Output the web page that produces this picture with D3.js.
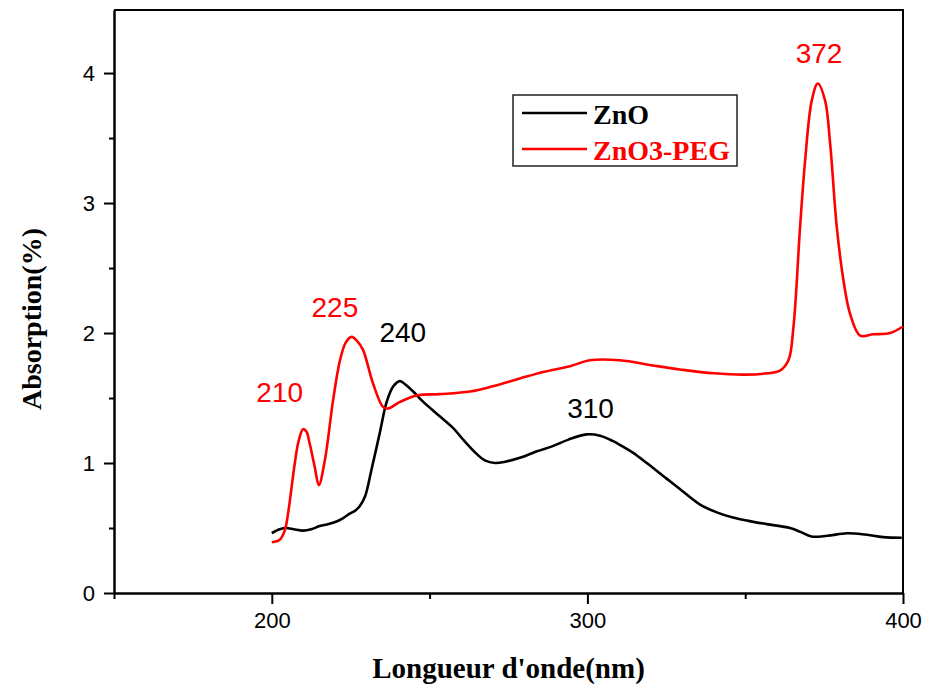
<!DOCTYPE html>
<html>
<head>
<meta charset="utf-8">
<script src="https://cdn.jsdelivr.net/npm/d3@7"></script>
<style>
  body { margin: 0; background: #fff; }
  svg { display: block; }
</style>
</head>
<body>
<svg id="chart" width="925" height="688"></svg>
<script>
// ZnO absorption spectrum
var znoWl  = [200, 202.5, 204.6, 207, 209.9, 212.5, 215.2, 218, 220.5, 222.5, 224.7, 226.5, 227.9, 229.5, 231.6, 234.2, 236.4, 238.5, 240.6, 242.5, 244.8, 248, 253.2, 257.4, 261, 264.9, 267.5, 270.7, 274, 278.6, 284, 289, 294, 299.7, 304, 308, 311, 314.4, 318.8, 325.1, 329.3, 335.7, 341, 346.1, 351, 356.8, 364.2, 367.5, 371, 376, 382.2, 388, 393.7, 399.6]
var znoAbs = [0.46, 0.49, 0.5, 0.49, 0.48, 0.49, 0.515, 0.53, 0.55, 0.575, 0.61, 0.635, 0.67, 0.74, 0.95, 1.23, 1.47, 1.59, 1.63, 1.6, 1.55, 1.47, 1.36, 1.27, 1.17, 1.07, 1.02, 1.0, 1.01, 1.04, 1.09, 1.13, 1.18, 1.22, 1.21, 1.17, 1.13, 1.08, 1.0, 0.88, 0.8, 0.68, 0.62, 0.58, 0.555, 0.53, 0.5, 0.47, 0.435, 0.44, 0.46, 0.45, 0.43, 0.425]

// ZnO3-PEG absorption spectrum
var pegWl  = [200, 202.5, 204.1, 205.2, 206.2, 207.3, 208.5, 209.9, 211, 212, 213.6, 214.9, 216.8, 219.4, 221.6, 223.5, 225.3, 227, 228.9, 232.1, 235.3, 236.9, 240.6, 245.9, 253.2, 262.8, 270, 278.6, 286, 294.5, 300.8, 310.3, 320.8, 329.3, 340, 350, 357, 361, 363.7, 365.3, 367.4, 369, 371.1, 373, 375.3, 376.9, 379, 381.1, 383.2, 386.4, 390.6, 395.9, 400]
var pegAbs = [0.39, 0.41, 0.48, 0.62, 0.8, 1.0, 1.17, 1.26, 1.24, 1.15, 0.97, 0.83, 1.02, 1.48, 1.79, 1.93, 1.97, 1.94, 1.87, 1.61, 1.43, 1.42, 1.47, 1.52, 1.53, 1.55, 1.59, 1.65, 1.7, 1.745, 1.79, 1.79, 1.75, 1.72, 1.69, 1.68, 1.69, 1.71, 1.79, 2.05, 2.82, 3.33, 3.79, 3.92, 3.79, 3.46, 2.82, 2.41, 2.15, 1.98, 1.99, 2.0, 2.05]

var seriesNames  = ["ZnO", "ZnO3-PEG"]
var seriesColors = ["#000000", "#ff0000"]

// peak annotations (anchor in data units)
var peakText   = ["210", "225", "240", "310", "372"]
var peakWl     = [202.5, 220.0, 241.5, 301.0, 373.4]
var peakAbs    = [1.47, 2.12, 1.93, 1.35, 4.08]
var peakSeries = [1, 1, 0, 0, 1]

var xMajor = [200, 300, 400]
var xMinor = [150, 250, 350]
var yMajor = [0, 1, 2, 3, 4]
var yMinor = [0.5, 1.5, 2.5, 3.5]

var margin = { top: 10, right: 22, bottom: 95, left: 114 }
var width = 925 - margin.left - margin.right
var height = 688 - margin.top - margin.bottom

var svg = d3.select("#chart")
var g = svg.append("g").attr("transform", "translate(" + margin.left + "," + margin.top + ")")

var x = d3.scaleLinear().domain([150, 400]).range([0, width])
var y = d3.scaleLinear().domain([0, 4.485]).range([height, 0])

var tickFont = "'Liberation Sans', Arial, sans-serif"
var titleFont = "'Liberation Serif', 'Times New Roman', serif"

// axes
var xAxis = g.append("g").attr("transform", "translate(0," + height + ")")
  .call(d3.axisBottom(x).tickValues(xMajor).tickSize(11).tickPadding(8).tickSizeOuter(0))
var xAxisMinor = g.append("g").attr("transform", "translate(0," + height + ")")
  .call(d3.axisBottom(x).tickValues(xMinor).tickSize(6).tickFormat("").tickSizeOuter(0))
var yAxis = g.append("g")
  .call(d3.axisLeft(y).tickValues(yMajor).tickSize(10).tickPadding(9).tickSizeOuter(0).tickFormat(d3.format("d")))
var yAxisMinor = g.append("g")
  .call(d3.axisLeft(y).tickValues(yMinor).tickSize(5).tickFormat("").tickSizeOuter(0))

;[xAxis, xAxisMinor, yAxis, yAxisMinor].forEach(function (a) {
  a.selectAll("path, line").attr("stroke", "#000").attr("stroke-width", 2)
  a.selectAll("text").attr("fill", "#000").style("font-family", tickFont).style("font-size", "22px")
})

// frame top and right
g.append("path")
  .attr("d", "M0,0H" + width + "V" + height)
  .attr("fill", "none").attr("stroke", "#000").attr("stroke-width", 2)

// curves
var line = d3.line()
  .x(function (d) { return x(d[0]) })
  .y(function (d) { return y(d[1]) })
  .curve(d3.curveCatmullRom.alpha(0.5))

var series = [d3.zip(znoWl, znoAbs), d3.zip(pegWl, pegAbs)]
g.selectAll("path.curve")
  .data(series)
  .enter().append("path")
  .attr("class", "curve")
  .attr("d", line)
  .attr("fill", "none")
  .attr("stroke", function (d, i) { return seriesColors[i] })
  .attr("stroke-width", 2.6)
  .attr("stroke-linejoin", "round")

// peak labels
g.selectAll("text.peak")
  .data(peakText)
  .enter().append("text")
  .attr("class", "peak")
  .attr("x", function (d, i) { return x(peakWl[i]) })
  .attr("y", function (d, i) { return y(peakAbs[i]) })
  .attr("text-anchor", "middle")
  .style("font-family", tickFont)
  .style("font-size", "28px")
  .attr("fill", function (d, i) { return seriesColors[peakSeries[i]] })
  .text(function (d) { return d })

// legend
var legend = svg.append("g").attr("transform", "translate(513,95)")
legend.append("rect")
  .attr("width", 224).attr("height", 71)
  .attr("fill", "#fff").attr("stroke", "#222").attr("stroke-width", 1.5)
var items = legend.selectAll("g.item")
  .data(seriesNames)
  .enter().append("g")
  .attr("class", "item")
  .attr("transform", function (d, i) { return "translate(0," + (18 + i * 36) + ")" })
items.append("line")
  .attr("x1", 9).attr("x2", 74)
  .attr("stroke", function (d, i) { return seriesColors[i] })
  .attr("stroke-width", 2.6)
items.append("text")
  .attr("x", 80).attr("y", 11)
  .style("font-family", titleFont)
  .style("font-weight", "bold")
  .style("font-size", "28px")
  .attr("fill", function (d, i) { return seriesColors[i] })
  .text(function (d) { return d })

// axis titles
svg.append("text")
  .attr("x", margin.left + width / 2).attr("y", 678)
  .attr("text-anchor", "middle")
  .style("font-family", titleFont).style("font-weight", "bold").style("font-size", "29px")
  .text("Longueur d'onde(nm)")

svg.append("text")
  .attr("transform", "translate(41,319) rotate(-90)")
  .attr("text-anchor", "middle")
  .style("font-family", titleFont).style("font-weight", "bold").style("font-size", "28px")
  .text("Absorption(%)")
</script>
</body>
</html>
